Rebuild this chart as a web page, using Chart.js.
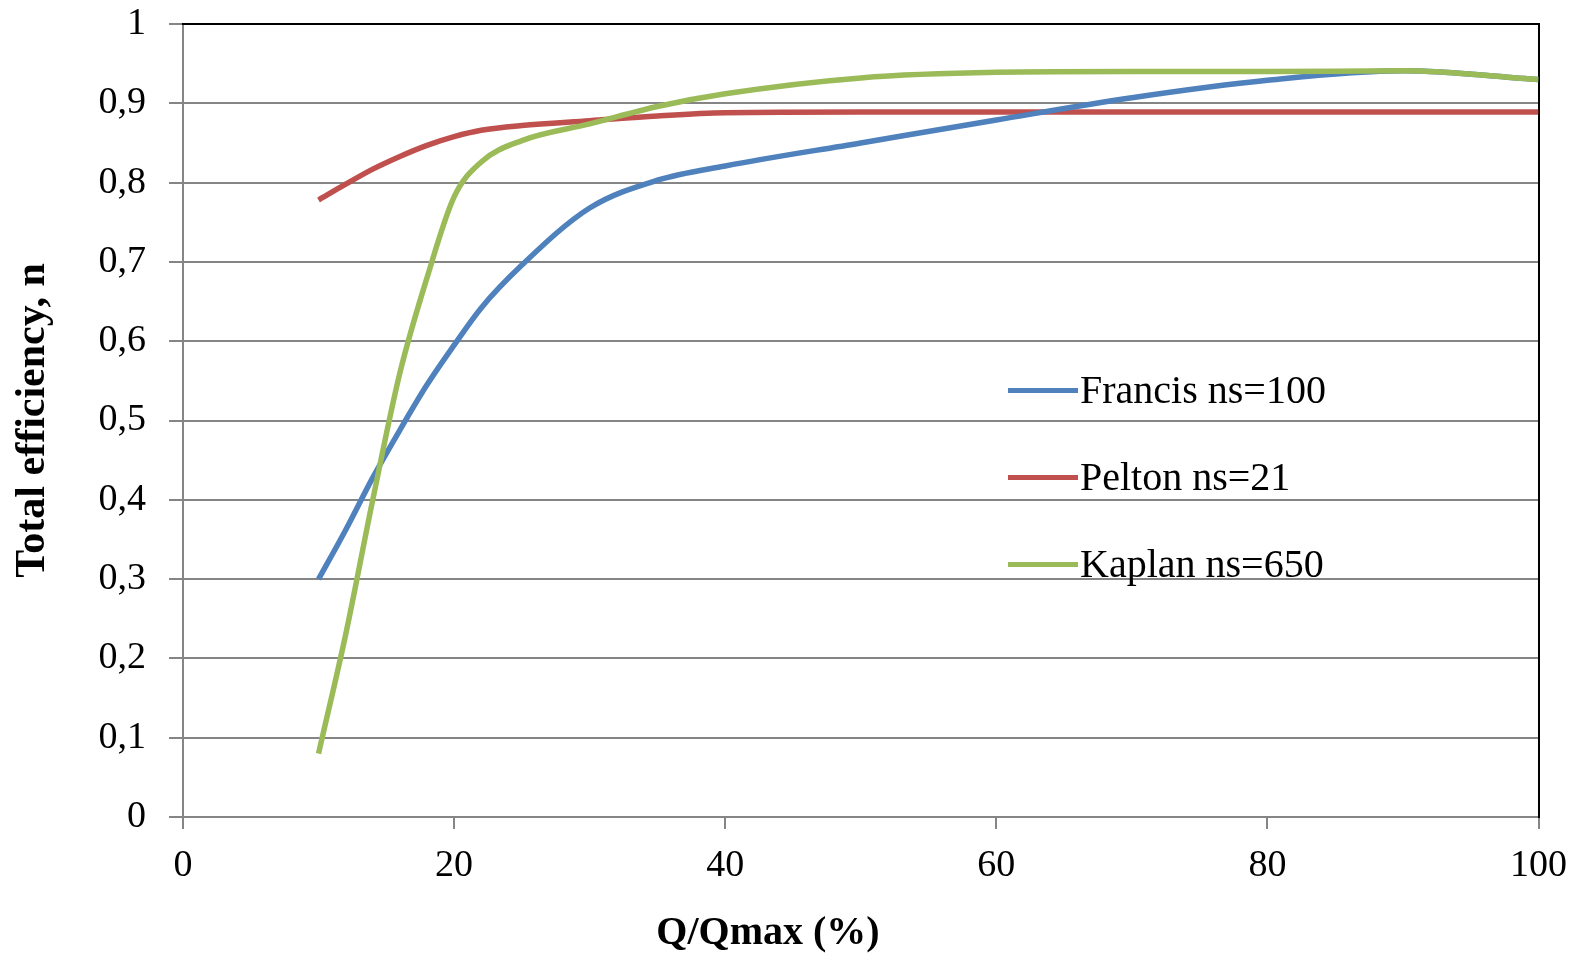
<!DOCTYPE html>
<html>
<head>
<meta charset="utf-8">
<title>Total efficiency</title>
<script src="https://cdn.jsdelivr.net/npm/chart.js@4.4.1/dist/chart.umd.min.js"></script>
<style>
    body { margin: 0; background: #fff; }
    #wrap { position: relative; width: 1581px; height: 956px; }
    #tituloX {
        position: absolute; left: 568px; width: 400px; top: 911px;
        text-align: center; font: bold 40px/40px "Liberation Serif", serif; color: #000;
    }
    #legenda { position: absolute; left: 1008px; top: 370px; }
    .item { position: relative; height: 40px; margin-bottom: 47px; }
    .item span.linha { position: absolute; left: 0; top: 18px; width: 70px; height: 5px; }
    .item span.texto {
        position: absolute; left: 72px; top: 0; white-space: nowrap;
        font: 40px/40px "Liberation Serif", serif; color: #000;
    }
</style>
</head>
<body>
<div id="wrap">
    <canvas id="myChartA"></canvas>
    <div id="tituloX"></div>
    <div id="legenda"></div>
</div>
<script>
// valores (Q/Qmax em %)
const qPct = [10, 12, 14, 16, 18, 20, 22, 25, 30, 35, 40, 50, 60, 70, 80, 90, 100]
const francis = [0.300, 0.362, 0.428, 0.488, 0.545, 0.595, 0.642, 0.696, 0.768, 0.803, 0.821, 0.850, 0.879, 0.907, 0.929, 0.941, 0.930]
const pelton = [0.778, 0.798, 0.817, 0.833, 0.847, 0.858, 0.866, 0.872, 0.878, 0.884, 0.888, 0.889, 0.889, 0.889, 0.889, 0.889, 0.889]
const kaplan = [0.080, 0.230, 0.400, 0.560, 0.680, 0.782, 0.826, 0.853, 0.874, 0.896, 0.912, 0.932, 0.939, 0.940, 0.940, 0.941, 0.930]

const nomes = ['Francis ns=100', 'Pelton ns=21', 'Kaplan ns=650']
const cores = ['#4f81bd', '#c0504d', '#9bbb59']

const yTickLabels = ['0', '0,1', '0,2', '0,3', '0,4', '0,5', '0,6', '0,7', '0,8', '0,9', '1']
const xTickLabels = ['0', '20', '40', '60', '80', '100']

const tituloX = 'Q/Qmax (%)'
const tituloY = 'Total efficiency, n'

Chart.defaults.font.family = '"Liberation Serif", "Times New Roman", serif'
Chart.defaults.color = '#000'

function pontos(serie) {
    var lista = []
    for (var i = 0; i < qPct.length; i++) {
        lista.push({ x: qPct[i], y: serie[i] })
    }
    return lista
}

function plotarGrafico() {
    const series = [francis, pelton, kaplan]
    const ordem = [1, 2, 0] // Kaplan por cima
    const datasets = []
    for (var i = 0; i < series.length; i++) {
        datasets.push({
            label: nomes[i],
            data: pontos(series[i]),
            borderColor: cores[i],
            backgroundColor: cores[i],
            borderWidth: 5.5,
            pointRadius: 0,
            cubicInterpolationMode: 'monotone',
            order: ordem[i]
        })
    }

    const cinza = '#858585'

    const config = {
        type: 'line',
        data: { datasets: datasets },
        options: {
            responsive: true,
            maintainAspectRatio: false,
            animation: false,
            layout: { padding: { top: 24, right: 40, bottom: 0, left: 0 } },
            plugins: {
                legend: { display: false },
                tooltip: { enabled: false }
            },
            scales: {
                x: {
                    type: 'linear',
                    min: 0,
                    max: 100,
                    ticks: {
                        stepSize: 20,
                        padding: 14,
                        font: { size: 38 },
                        callback: function (v, i) { return xTickLabels[i] }
                    },
                    grid: { drawOnChartArea: false, drawTicks: true, tickLength: 12, color: cinza, lineWidth: 2 },
                    border: { color: cinza, width: 2 },
                    afterFit: function (axis) { axis.height = 139 }
                },
                y: {
                    type: 'linear',
                    min: 0,
                    max: 1,
                    ticks: {
                        stepSize: 0.1,
                        padding: 23,
                        font: { size: 38 },
                        callback: function (v, i) { return yTickLabels[i] }
                    },
                    grid: { color: cinza, lineWidth: 2, tickLength: 14 },
                    border: { color: cinza, width: 2 },
                    title: {
                        display: true,
                        text: tituloY,
                        font: { size: 42, weight: 'bold' },
                        padding: { top: 8, bottom: 0 }
                    },
                    afterFit: function (axis) {
                        axis.width = 183
                        axis.paddingTop = 0
                        axis.paddingBottom = 0
                    }
                },
                // moldura preta em cima e a direita
                x2: {
                    type: 'linear', position: 'top', min: 0, max: 100,
                    ticks: { display: false },
                    grid: { display: false, drawTicks: false },
                    border: { color: '#000', width: 2 },
                    afterFit: function (axis) { axis.height = 0 }
                },
                y2: {
                    type: 'linear', position: 'right', min: 0, max: 1,
                    ticks: { display: false },
                    grid: { display: false, drawTicks: false },
                    border: { color: '#000', width: 2 },
                    afterFit: function (axis) { axis.width = 0 }
                }
            }
        }
    }

    const myChart = new Chart(document.getElementById('myChartA'), config)

    document.getElementById('tituloX').textContent = tituloX

    var legenda = document.getElementById('legenda')
    for (var j = 0; j < nomes.length; j++) {
        var item = document.createElement('div')
        item.className = 'item'
        item.innerHTML = '<span class="linha" style="background:' + cores[j] + '"></span><span class="texto"></span>'
        item.querySelector('.texto').textContent = nomes[j]
        legenda.appendChild(item)
    }
}

plotarGrafico()
</script>
</body>
</html>
